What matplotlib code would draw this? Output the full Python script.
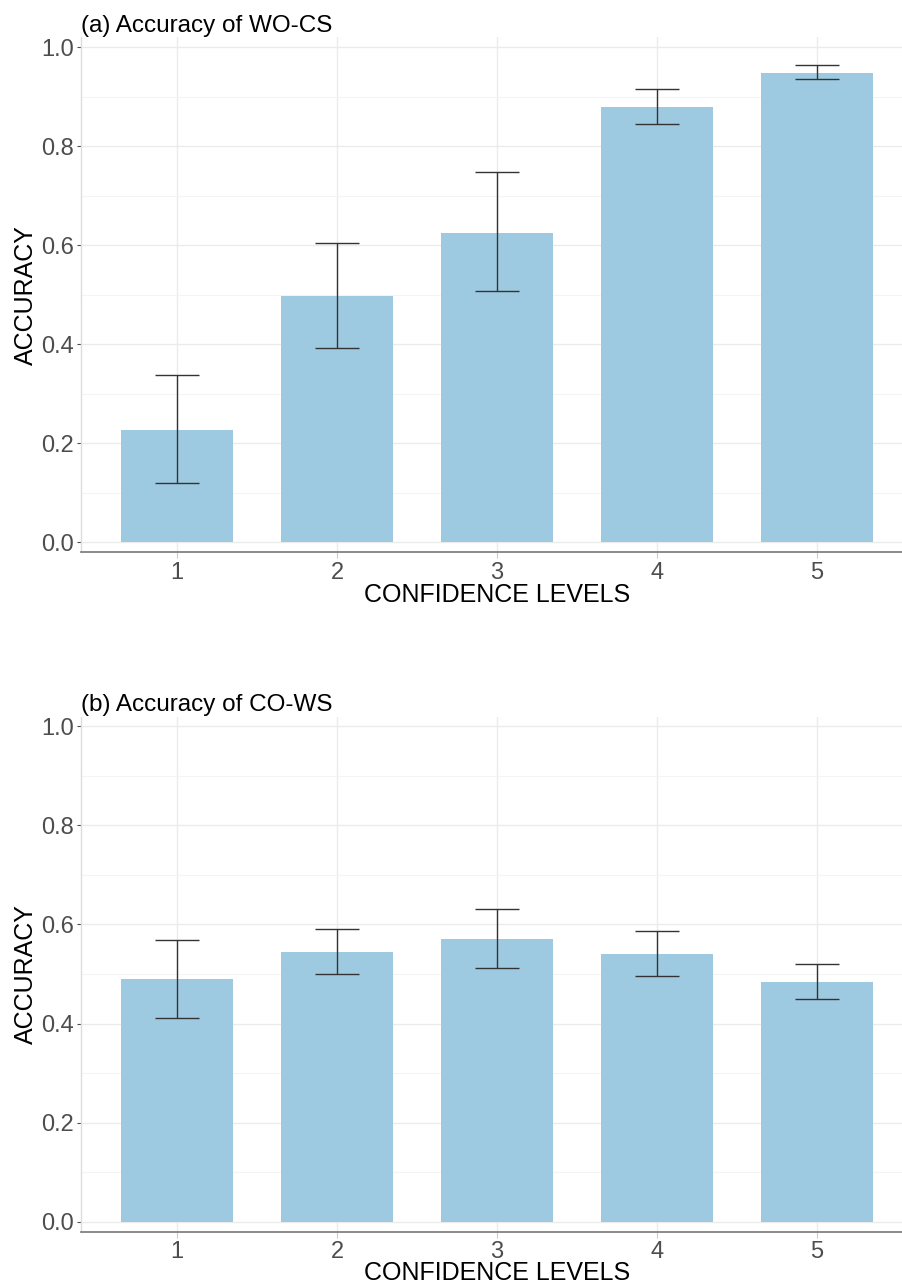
import matplotlib
matplotlib.use("Agg")
import matplotlib.pyplot as plt
import numpy as np

plt.rcParams['font.family'] = ['Liberation Sans', 'DejaVu Sans']

levels = [1, 2, 3, 4, 5]
level_labels = ["1", "2", "3", "4", "5"]

acc_wo_cs = [0.228, 0.498, 0.626, 0.879, 0.948]
lo_wo_cs = [0.121, 0.392, 0.507, 0.846, 0.936]
hi_wo_cs = [0.339, 0.605, 0.748, 0.915, 0.965]

acc_co_ws = [0.489, 0.544, 0.571, 0.541, 0.483]
lo_co_ws = [0.412, 0.500, 0.512, 0.496, 0.449]
hi_co_ws = [0.569, 0.590, 0.631, 0.587, 0.521]

titles = ["(a) Accuracy of WO-CS", "(b) Accuracy of CO-WS"]
xlabel = "CONFIDENCE LEVELS"
ylabel = "ACCURACY"

W, H = 903, 1286
fig = plt.figure(figsize=(W / 100, H / 100), dpi=100)

bar_color = "#9ecae1"
left = 81 / W
width = 832 / W

panels = [
    (acc_wo_cs, lo_wo_cs, hi_wo_cs, titles[0], 37.5, 552.4, -1),
    (acc_co_ws, lo_co_ws, hi_co_ws, titles[1], 716.5, 1231.5, -1.5),
]

for acc, lo, hi, title, top_px, bot_px, xpad in panels:
    ax = fig.add_axes([left, 1 - bot_px / H, width, (bot_px - top_px) / H])
    ax.set_xlim(0.4, 5.6)
    ax.set_ylim(-0.02, 1.02)
    ax.set_yticks([0.0, 0.2, 0.4, 0.6, 0.8, 1.0])
    ax.set_yticks([0.1, 0.3, 0.5, 0.7, 0.9], minor=True)
    ax.set_xticks(levels)
    ax.set_xticklabels(level_labels)
    ax.grid(True, which="major", color="#ebebeb", linewidth=1.0, zorder=0)
    ax.grid(True, which="minor", axis="y", color="#f4f4f4", linewidth=0.8, zorder=0)
    ax.set_axisbelow(True)
    ax.bar(levels, acc, width=0.7, color=bar_color, zorder=2)
    acc_a = np.array(acc)
    yerr = [acc_a - np.array(lo), np.array(hi) - acc_a]
    ax.errorbar(levels, acc, yerr=yerr, fmt="none", ecolor="#333333",
                elinewidth=1.0, capsize=16, capthick=1.0, zorder=3)
    for s in ["top", "right"]:
        ax.spines[s].set_visible(False)
    ax.spines["left"].set_color("#dddddd")
    ax.spines["left"].set_linewidth(1.0)
    ax.spines["bottom"].set_color("#777777")
    ax.spines["bottom"].set_linewidth(1.2)
    ax.tick_params(axis="both", which="major", labelsize=17, colors="#4d4d4d",
                   length=3, width=0.8, pad=2)
    ax.tick_params(axis="y", which="minor", length=0)
    ax.tick_params(axis="x", which="major", length=4, color="#cccccc", pad=3)
    for lbl in ax.get_xticklabels() + ax.get_yticklabels():
        lbl.set_color("#4d4d4d")
    ax.set_xlabel(xlabel, fontsize=18, color="black", labelpad=xpad)
    ax.set_ylabel(ylabel, fontsize=18, color="black", labelpad=2)
    ax.text(0.0, 1.0, title, transform=ax.transAxes, fontsize=17.5,
            color="black", ha="left", va="bottom")

fig.savefig("out.png", dpi=100, facecolor="white")
